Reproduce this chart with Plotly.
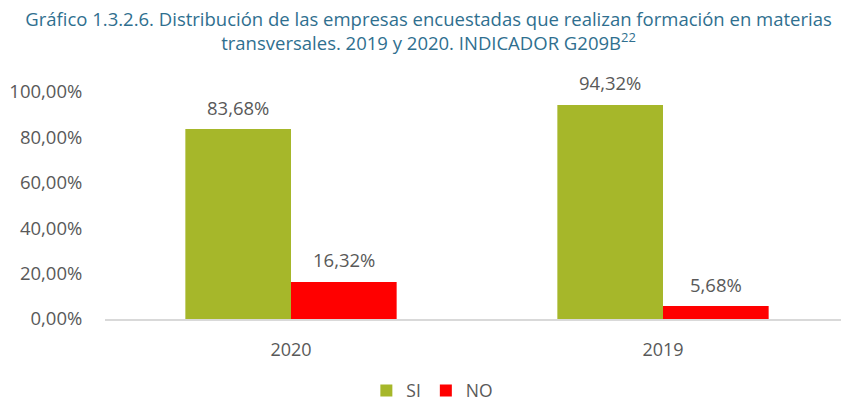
import plotly.graph_objects as go

categories = ["2020", "2019"]
si_values = [83.68, 94.32]
no_values = [16.32, 5.68]
tick_vals = [0, 20, 40, 60, 80, 100]
tick_text = ["0,00%", "20,00%", "40,00%", "60,00%", "80,00%", "100,00%"]

font_family = "Open Sans, Liberation Sans, sans-serif"
gray = "#595959"

fig = go.Figure()
fig.add_trace(go.Bar(
    x=categories, y=si_values, name="SI",
    marker=dict(color="#A6B72A", line=dict(width=0)),
))
fig.add_trace(go.Bar(
    x=categories, y=no_values, name="NO",
    marker=dict(color="#FF0000", line=dict(width=0)),
))

# value labels placed above each bar (offset by half a bar width within the group)
half_bar_px = 53
for vals, shift in ((si_values, -half_bar_px), (no_values, half_bar_px)):
    for idx, v in enumerate(vals):
        fig.add_annotation(
            x=idx, y=v, xref="x", yref="y",
            text=f"{v:.2f}%".replace(".", ","),
            showarrow=False, xshift=shift, yshift=22,
            font=dict(size=18.5, color=gray, family=font_family),
        )

# page body has an 8px default margin, so the figure is sized to fill the rest
fig.update_layout(
    width=841, height=395,
    margin=dict(l=97, r=0, t=84, b=84, autoexpand=False),
    paper_bgcolor="white", plot_bgcolor="white",
    separators=",.",
    barmode="group", bargap=0.432, bargroupgap=0,
    title=dict(
        text="Gráfico 1.3.2.6. Distribución de las empresas encuestadas que realizan formación en materias<br>transversales. 2019 y 2020. INDICADOR G209B<sup>22</sup>",
        x=0.5, xref="container", xanchor="center",
        y=0.955, yref="container", yanchor="top",
        font=dict(size=18.5, color="#2F6F8F", family=font_family),
    ),
    font=dict(family=font_family, color=gray),
    xaxis=dict(
        type="category", range=[-0.5, 1.5],
        showline=True, linecolor="#D9D9D9", linewidth=1.5,
        ticks="outside", ticklen=14, tickcolor="rgba(0,0,0,0)",
        tickfont=dict(size=18, color=gray),
        showgrid=False, automargin=False,
    ),
    yaxis=dict(
        range=[0, 100], tickvals=tick_vals, ticktext=tick_text,
        tickfont=dict(size=18.5, color=gray),
        showgrid=False, zeroline=False, showline=False,
        ticks="outside", ticklen=18, tickcolor="rgba(0,0,0,0)",
        automargin=False,
    ),
    legend=dict(
        orientation="h", x=0.44, xanchor="center",
        y=-0.395, yanchor="bottom",
        font=dict(size=17.5, color=gray),
        itemwidth=30, traceorder="normal",
    ),
    showlegend=True,
)

fig.write_html("out.html")
